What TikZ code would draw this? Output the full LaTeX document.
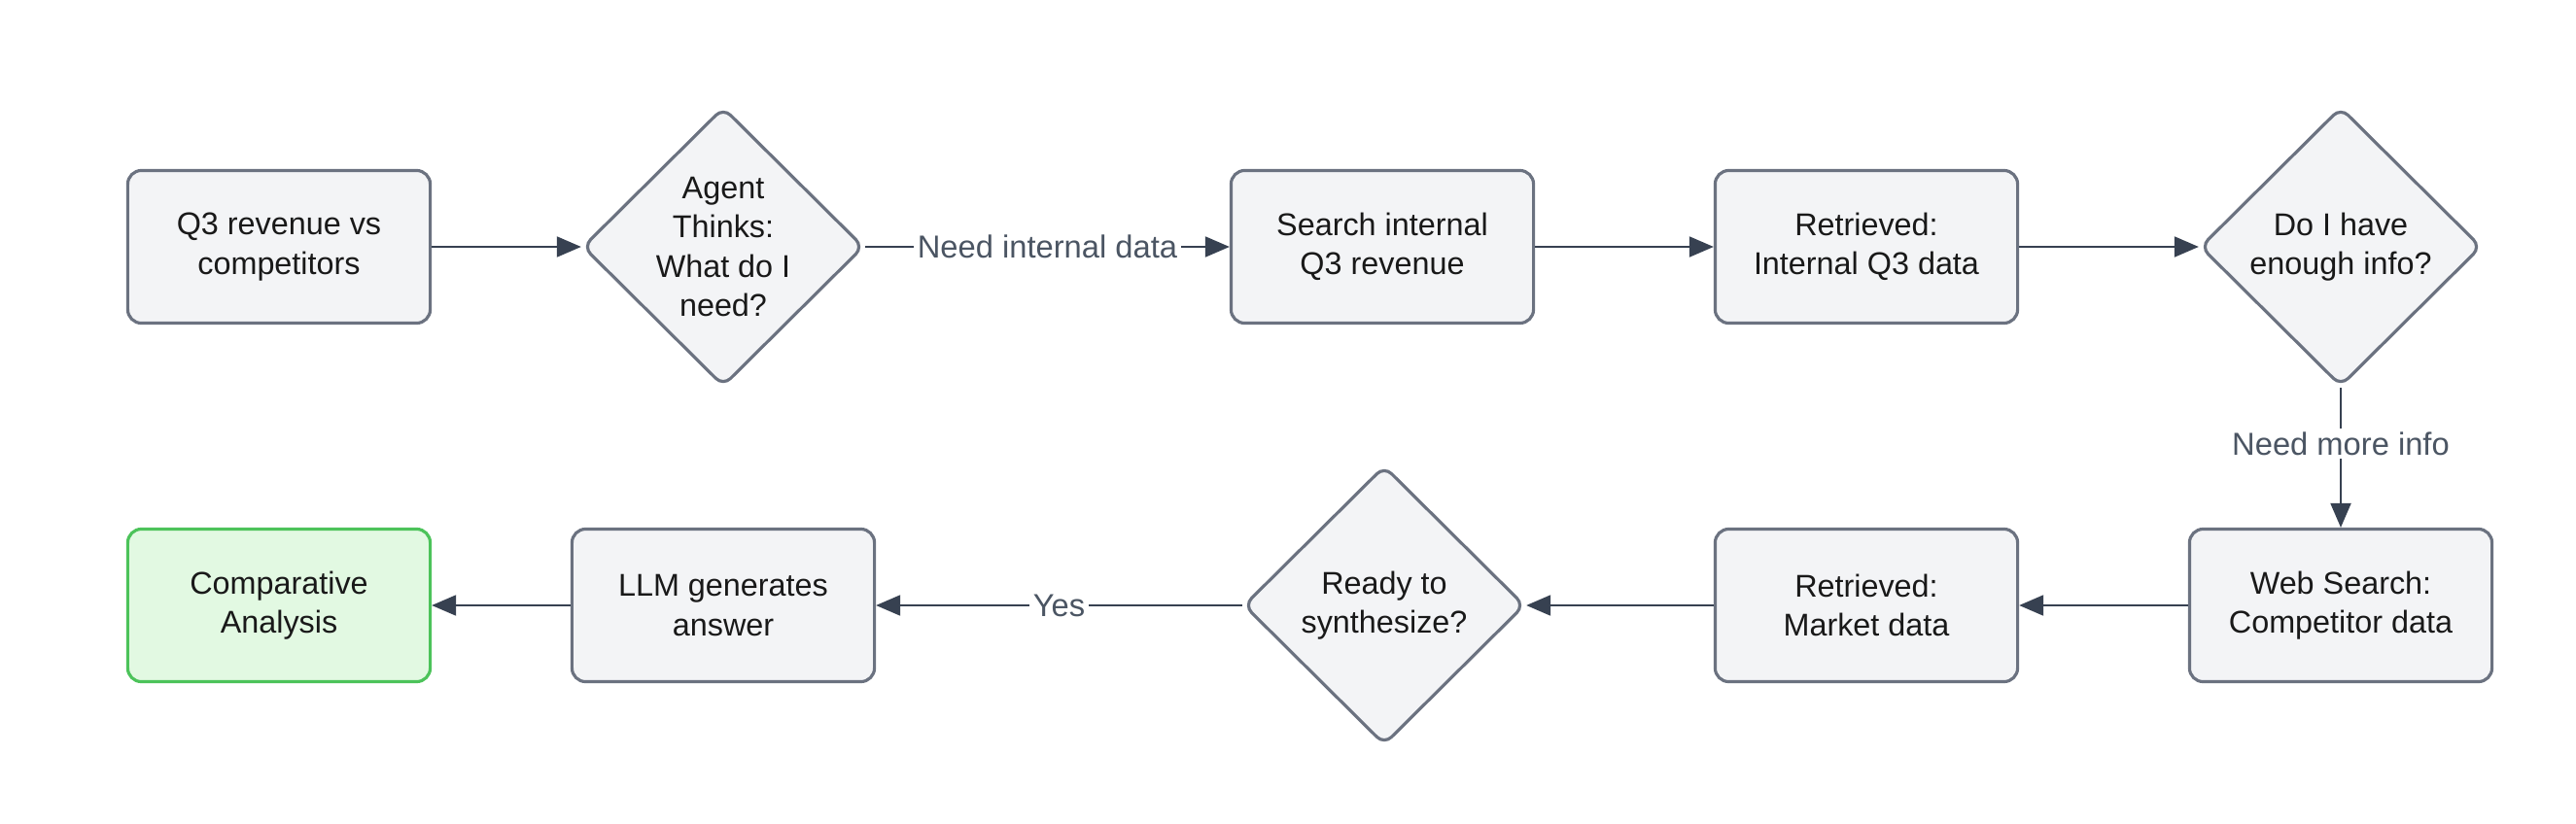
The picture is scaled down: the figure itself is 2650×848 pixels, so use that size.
\documentclass[tikz,border=0pt]{standalone}
\usepackage{fontspec}
\setmainfont{Liberation Sans}
\usetikzlibrary{shapes.geometric, arrows.meta, positioning}
\definecolor{boxfill}{RGB}{243, 244, 246}
\definecolor{boxline}{RGB}{107, 114, 128}
\definecolor{arrowcol}{RGB}{55, 65, 81}
\definecolor{donefill}{RGB}{226, 249, 226}
\definecolor{doneline}{RGB}{76, 195, 90}
\definecolor{labeltext}{RGB}{75, 85, 99}

\begin{document}
\begin{tikzpicture}[x=0.01cm, y=-0.01cm,
    every node/.style={font=\fontsize{9.2}{11.5}\selectfont, text=black!90},
    stepbox/.style={rectangle, rounded corners=4pt, draw=boxline, fill=boxfill, line width=0.9pt,
        minimum width=3.11cm, minimum height=1.57cm, align=center},
    donebox/.style={stepbox, draw=doneline, fill=donefill},
    choice/.style={diamond, rounded corners=3pt, draw=boxline, fill=boxfill, line width=0.9pt,
        minimum width=2.89cm, minimum height=2.87cm, inner sep=0pt, align=center},
    flow/.style={draw=arrowcol, line width=0.6pt, -{Triangle[length=0.25cm, width=0.21cm]}},
    tag/.style={fill=white, text=labeltext, inner sep=1pt, font=\fontsize{9.3}{11}\selectfont}]
        \useasboundingbox (0,0) rectangle (2650,848);

        % Top row
        \node[stepbox] (query) at (287,254) {Q3 revenue vs\\competitors};
        \node[choice] (think) at (744,254) {Agent\\Thinks:\\What do I\\need?};
        \node[stepbox] (search) at (1422,254) {Search internal\\Q3 revenue};
        \node[stepbox] (internal) at (1920,254) {Retrieved:\\Internal Q3 data};
        \node[choice] (enough) at (2408,254) {Do I have\\enough info?};

        % Bottom row
        \node[stepbox] (web) at (2408,623) {Web Search:\\Competitor data};
        \node[stepbox] (market) at (1920,623) {Retrieved:\\Market data};
        \node[choice] (ready) at (1424,623) {Ready to\\synthesize?};
        \node[stepbox] (llm) at (744,623) {LLM generates\\answer};
        \node[donebox] (result) at (287,623) {Comparative\\Analysis};

        % Connectors
        \draw[flow] (query) -- (think);
        \draw[flow] (think) -- node[tag] {Need internal data} (search);
        \draw[flow] (search) -- (internal);
        \draw[flow] (internal) -- (enough);
        \draw[flow] (enough) -- node[tag, pos=0.4] {Need more info} (web);
        \draw[flow] (web) -- (market);
        \draw[flow] (market) -- (ready);
        \draw[flow] (ready) -- node[tag] {Yes} (llm);
        \draw[flow] (llm) -- (result);
    \end{tikzpicture}
\end{document}
